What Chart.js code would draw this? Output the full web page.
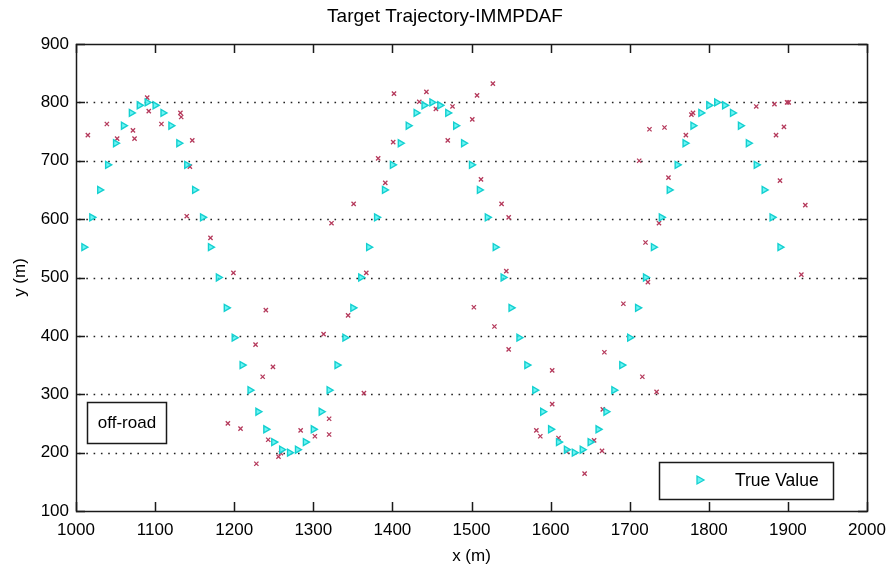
<!DOCTYPE html>
<html>
<head>
<meta charset="utf-8">
<title>Target Trajectory-IMMPDAF</title>
<script src="https://cdn.jsdelivr.net/npm/chart.js@4.4.1/dist/chart.umd.min.js"></script>
<style>
  html, body { margin: 0; padding: 0; background: #ffffff; }
  #wrap { width: 890px; height: 576px; }
</style>
</head>
<body>
<div id="wrap"><canvas id="traj" width="890" height="576"></canvas></div>
<script>
// True target positions (x, y in metres)
const trueX = [
  1010, 1020, 1030, 1040, 1050, 1060, 1070, 1080, 1090, 1100,
  1110, 1120, 1130, 1140, 1150, 1160, 1170, 1180, 1190, 1200,
  1210, 1220, 1230, 1240, 1250, 1260, 1270, 1280, 1290, 1300,
  1310, 1320, 1330, 1340, 1350, 1360, 1370, 1380, 1390, 1400,
  1410, 1420, 1430, 1440, 1450, 1460, 1470, 1480, 1490, 1500,
  1510, 1520, 1530, 1540, 1550, 1560, 1570, 1580, 1590, 1600,
  1610, 1620, 1630, 1640, 1650, 1660, 1670, 1680, 1690, 1700,
  1710, 1720, 1730, 1740, 1750, 1760, 1770, 1780, 1790, 1800,
  1810, 1820, 1830, 1840, 1850, 1860, 1870, 1880, 1890
];
const trueY = [
  552, 603, 650, 693, 730, 760, 782, 795, 800, 795,
  782, 760, 730, 693, 650, 603, 552, 500, 448, 397,
  350, 307, 270, 240, 218, 205, 200, 205, 218, 240,
  270, 307, 350, 397, 448, 500, 552, 603, 650, 693,
  730, 760, 782, 795, 800, 795, 782, 760, 730, 693,
  650, 603, 552, 500, 448, 397, 350, 307, 270, 240,
  218, 205, 200, 205, 218, 240, 270, 307, 350, 397,
  448, 500, 552, 603, 650, 693, 730, 760, 782, 795,
  800, 795, 782, 760, 730, 693, 650, 603, 552
];

// Sensor measurements (x, y in metres)
const measX = [
  1015, 1039, 1052, 1072, 1074, 1090, 1092, 1108, 1132, 1133,
  1147, 1144, 1140, 1170, 1199, 1240, 1227, 1249, 1236, 1192,
  1208, 1243, 1228, 1256, 1259, 1284, 1302, 1320, 1320, 1313,
  1344, 1364, 1367, 1323, 1351, 1391, 1382, 1401, 1402, 1434,
  1443, 1455, 1476, 1470, 1501, 1507, 1527, 1512, 1538, 1547,
  1544, 1503, 1529, 1547, 1602, 1602, 1582, 1587, 1610, 1620,
  1655, 1665, 1666, 1668, 1643, 1692, 1716, 1734, 1723, 1720,
  1737, 1749, 1712, 1725, 1744, 1771, 1778, 1780, 1860, 1883,
  1899, 1901, 1895, 1885, 1890, 1922, 1917
];
const measY = [
  744, 763, 738, 752, 738, 808, 785, 763, 782, 775,
  735, 690, 605, 568, 508, 444, 385, 347, 330, 250,
  241, 222, 181, 193, 199, 238, 228, 258, 231, 403,
  435, 302, 508, 593, 626, 662, 704, 732, 815, 801,
  818, 789, 793, 735, 771, 812, 832, 668, 626, 603,
  511, 449, 416, 377, 341, 283, 238, 228, 225, 202,
  221, 203, 274, 372, 164, 455, 330, 304, 492, 560,
  593, 671, 700, 754, 757, 744, 779, 782, 793, 797,
  800, 800, 758, 744, 666, 624, 505
];

// Axis ticks
const xTicks = [1000, 1100, 1200, 1300, 1400, 1500, 1600, 1700, 1800, 1900, 2000];
const yTicks = [100, 200, 300, 400, 500, 600, 700, 800, 900];

const TITLE = 'Target Trajectory-IMMPDAF';
const FONT = 'Liberation Sans, Arial, Helvetica, sans-serif';
const TRUE_EDGE = '#14d0d0';
const TRUE_FILL = 'rgba(60,240,240,0.75)';
const MEAS_COLOR = '#b53a5c';

// Draws the title, dotted horizontal grid, the boxed axes with inward ticks,
// the in-plot legend and the "off-road" label box.
const matlabFrame = {
  id: 'matlabFrame',
  beforeDatasetsDraw(chart) {
    const { ctx, chartArea: a, scales } = chart;
    ctx.save();
    ctx.strokeStyle = '#222';
    ctx.lineWidth = 1.6;
    ctx.setLineDash([1.6, 5.7]);
    yTicks.slice(1, -1).forEach(v => {
      const py = Math.round(scales.y.getPixelForValue(v)) + 0.5;
      ctx.beginPath();
      ctx.moveTo(a.left + 3, py);
      ctx.lineTo(a.right, py);
      ctx.stroke();
    });
    ctx.restore();
  },
  afterDraw(chart) {
    const { ctx, chartArea: a, scales, width } = chart;
    const tick = 9;
    ctx.save();

    // title
    ctx.fillStyle = '#000';
    ctx.font = '19px ' + FONT;
    ctx.textAlign = 'center';
    ctx.textBaseline = 'middle';
    ctx.fillText(TITLE, width / 2, 17);

    ctx.strokeStyle = '#1a1a1a';
    ctx.lineWidth = 1.5;
    ctx.setLineDash([]);
    ctx.strokeRect(a.left + 0.5, a.top + 0.5, a.right - a.left, a.bottom - a.top);
    ctx.beginPath();
    xTicks.forEach(v => {
      const px = Math.round(scales.x.getPixelForValue(v)) + 0.5;
      ctx.moveTo(px, a.bottom); ctx.lineTo(px, a.bottom - tick);
      ctx.moveTo(px, a.top); ctx.lineTo(px, a.top + tick);
    });
    yTicks.forEach(v => {
      const py = Math.round(scales.y.getPixelForValue(v)) + 0.5;
      ctx.moveTo(a.left, py); ctx.lineTo(a.left + tick, py);
      ctx.moveTo(a.right, py); ctx.lineTo(a.right - tick, py);
    });
    ctx.stroke();

    // legend box
    ctx.fillStyle = '#fff';
    ctx.fillRect(659, 462, 174, 37);
    ctx.strokeRect(659.5, 462.5, 174, 37);
    const mx = 700, my = 480;
    ctx.beginPath();
    ctx.moveTo(mx - 3, my - 4);
    ctx.lineTo(mx + 4, my);
    ctx.lineTo(mx - 3, my + 4);
    ctx.closePath();
    ctx.fillStyle = TRUE_FILL;
    ctx.fill();
    ctx.strokeStyle = TRUE_EDGE;
    ctx.lineWidth = 1.3;
    ctx.stroke();
    ctx.fillStyle = '#000';
    ctx.font = '17.5px ' + FONT;
    ctx.textAlign = 'left';
    ctx.fillText('True Value', 735, 481);

    // off-road label
    ctx.strokeStyle = '#1a1a1a';
    ctx.lineWidth = 1.5;
    ctx.strokeRect(87.5, 402.5, 79, 41);
    ctx.textAlign = 'center';
    ctx.font = '17px ' + FONT;
    ctx.fillText('off-road', 127, 423);
    ctx.restore();
  }
};

const plainLabel = v => String(v);

new Chart(document.getElementById('traj'), {
  type: 'scatter',
  data: {
    datasets: [
      {
        label: 'True Value',
        data: trueX.map((x, i) => ({ x, y: trueY[i] })),
        pointStyle: 'triangle',
        rotation: 90,
        pointRadius: 4,
        borderWidth: 1.4,
        borderColor: TRUE_EDGE,
        backgroundColor: TRUE_FILL
      },
      {
        label: 'Measurement',
        data: measX.map((x, i) => ({ x, y: measY[i] })),
        pointStyle: 'crossRot',
        pointRadius: 3,
        borderWidth: 1.3,
        borderColor: MEAS_COLOR,
        backgroundColor: MEAS_COLOR
      }
    ]
  },
  options: {
    responsive: false,
    animation: false,
    devicePixelRatio: 1,
    layout: { padding: { left: 0, right: 23, top: 44, bottom: 0 } },
    plugins: {
      legend: { display: false },
      tooltip: { enabled: false },
      title: { display: false }
    },
    scales: {
      x: {
        type: 'linear',
        min: 1000,
        max: 2000,
        afterBuildTicks: s => { s.ticks = xTicks.map(v => ({ value: v })); },
        afterFit: s => { s.height = 65; s.paddingLeft = 0; s.paddingRight = 0; },
        grid: { display: false, drawTicks: false },
        border: { display: false },
        ticks: { color: '#000', font: { family: FONT, size: 17 }, padding: 9, maxRotation: 0, autoSkip: false, callback: plainLabel },
        title: { display: true, text: 'x (m)', color: '#000', font: { family: FONT, size: 17 }, padding: { top: 0, bottom: 9.8 } }
      },
      y: {
        type: 'linear',
        min: 100,
        max: 900,
        afterBuildTicks: s => { s.ticks = yTicks.map(v => ({ value: v })); },
        afterFit: s => { s.width = 76; s.paddingTop = 0; s.paddingBottom = 0; },
        grid: { display: false, drawTicks: false },
        border: { display: false },
        ticks: { color: '#000', font: { family: FONT, size: 17 }, padding: 7, autoSkip: false, callback: plainLabel },
        title: { display: true, text: 'y (m)', color: '#000', font: { family: FONT, size: 17 }, padding: { top: 10, bottom: 0 } }
      }
    }
  },
  plugins: [matlabFrame]
});
</script>
</body>
</html>
